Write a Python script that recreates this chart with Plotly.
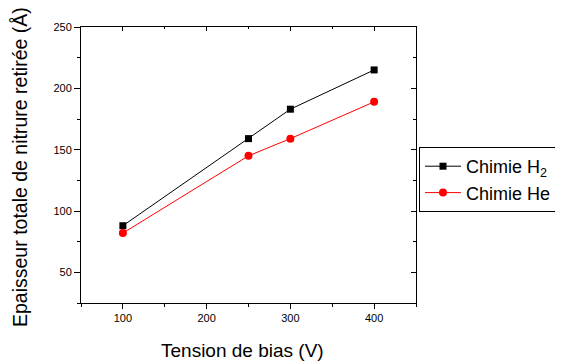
import plotly.graph_objects as go

bias = [100, 250, 300, 400]
h2 = [88, 159, 183, 215]
he = [82, 145, 159, 189]

x_range = [50, 450]
y_range = [25, 250]

# page body has an 8px default margin: build the figure 8px smaller and offset all pixel targets
OFF = 8
W, H = 563 - OFF, 364 - OFF
L, R, T, B = 81 - OFF, 147, 27 - OFF, 61

fig = go.Figure()
fig.add_trace(go.Scatter(x=bias, y=h2, mode="lines+markers", name="Chimie H<sub>2</sub>",
                         line=dict(color="black", width=1),
                         marker=dict(symbol="square", size=7, color="black")))
fig.add_trace(go.Scatter(x=bias, y=he, mode="lines+markers", name="Chimie He",
                         line=dict(color="red", width=1),
                         marker=dict(symbol="circle", size=8, color="red")))
fig.add_trace(go.Scatter(x=[], y=[], xaxis="x2", yaxis="y2", showlegend=False))

font = "Liberation Sans, Arial, sans-serif"
axcommon = dict(showgrid=False, zeroline=False, showline=True, linecolor="black", linewidth=1,
                tickcolor="black", tickfont=dict(family=font, size=11, color="black"))

def px_x(x):
    return (x - OFF - L) / (W - L - R)

def px_y(y):
    return (H - B - (y - OFF)) / (H - T - B)

fig.update_layout(
    width=W, height=H,
    margin=dict(l=L, r=R, t=T, b=B, autoexpand=False),
    paper_bgcolor="white", plot_bgcolor="white",
    font=dict(family=font, color="black"),
    xaxis=dict(range=x_range, tickvals=[100, 200, 300, 400], ticks="outside", ticklen=5,
               minor=dict(tickvals=[50, 150, 250, 350, 450], ticks="outside", ticklen=3, tickcolor="black"),
               **axcommon),
    yaxis=dict(range=y_range, tickvals=[50, 100, 150, 200, 250], ticks="outside", ticklen=6,
               minor=dict(tickvals=[25, 75, 125, 175, 225], ticks="outside", ticklen=3, tickcolor="black"),
               **axcommon),
    xaxis2=dict(range=x_range, overlaying="x", side="top", anchor="y", showticklabels=False,
                tickvals=[100, 200, 300, 400], ticks="inside", ticklen=4,
                minor=dict(tickvals=[150, 250, 350], ticks="inside", ticklen=2, tickcolor="black"),
                **axcommon),
    yaxis2=dict(range=y_range, overlaying="y", side="right", anchor="x", showticklabels=False,
                tickvals=[50, 100, 150, 200, 250], ticks="inside", ticklen=5,
                minor=dict(tickvals=[75, 125, 175, 225], ticks="inside", ticklen=3, tickcolor="black"),
                **axcommon),
    legend=dict(x=px_x(419), y=px_y(147), xanchor="left", yanchor="top",
                bordercolor="black", borderwidth=1, bgcolor="white", itemwidth=36,
                font=dict(family=font, size=18, color="black"), tracegroupgap=0),
    showlegend=True,
)

fig.add_annotation(text="Tension de bias (V)", x=px_x(242), y=px_y(350), xref="paper", yref="paper",
                   xanchor="center", yanchor="middle",
                   showarrow=False, font=dict(family=font, size=19, color="black"))
fig.add_annotation(text="Epaisseur totale de nitrure retirée (Å)", x=px_x(20), y=px_y(167),
                   xref="paper", yref="paper", textangle=-90, xanchor="center", yanchor="middle",
                   showarrow=False, font=dict(family=font, size=19.5, color="black"))

fig.write_html("out.html")
